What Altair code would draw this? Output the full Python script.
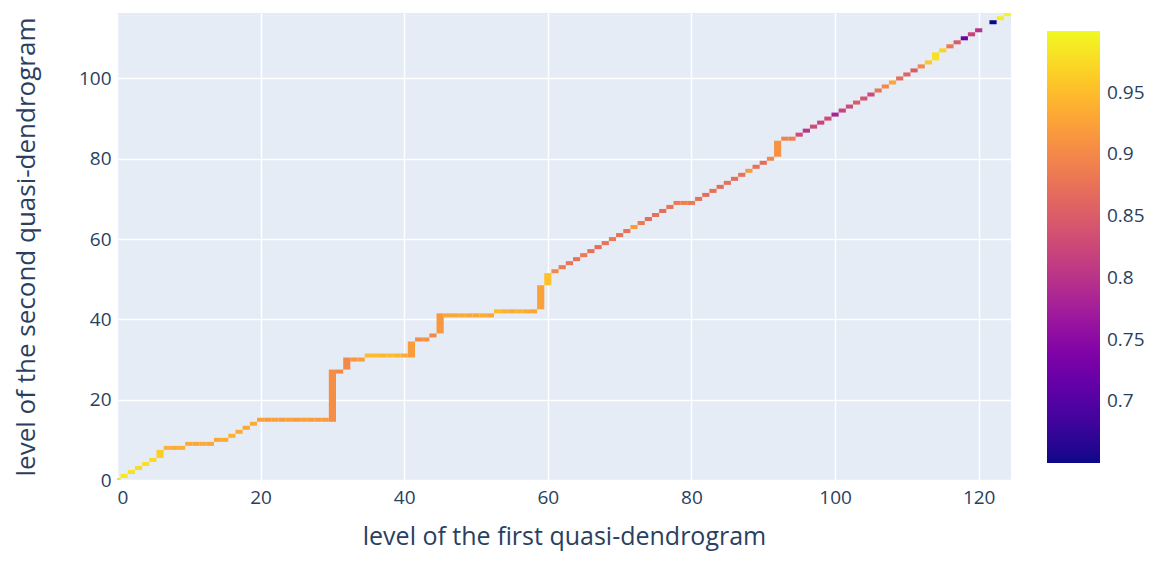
import altair as alt
import pandas as pd

# column index on the first quasi-dendrogram (column 121 is empty)
level_first = list(range(0, 121)) + [122, 123, 124]

# lowest / highest level of the second quasi-dendrogram filled in each column
level_second_low = [
    0, 1, 2, 3, 4, 5, 6, 8, 8, 8,
    9, 9, 9, 9, 10, 10, 11, 12, 13, 14,
    15, 15, 15, 15, 15, 15, 15, 15, 15, 15,
    15, 27, 28, 30, 30, 31, 31, 31, 31, 31,
    31, 31, 35, 35, 36, 37, 41, 41, 41, 41,
    41, 41, 41, 42, 42, 42, 42, 42, 42, 43,
    49, 52, 53, 54, 55, 56, 57, 58, 59, 60,
    61, 62, 63, 64, 65, 66, 67, 68, 69, 69,
    69, 70, 71, 72, 73, 74, 75, 76, 77, 78,
    79, 80, 81, 85, 85, 86, 87, 88, 89, 90,
    91, 92, 93, 94, 95, 96, 97, 98, 99, 100,
    101, 102, 103, 104, 105, 107, 108, 109, 110, 111,
    112, 114, 115, 116,
]
level_second_high = [
    0, 1, 2, 3, 4, 5, 7, 8, 8, 8,
    9, 9, 9, 9, 10, 10, 11, 12, 13, 14,
    15, 15, 15, 15, 15, 15, 15, 15, 15, 15,
    27, 27, 30, 30, 30, 31, 31, 31, 31, 31,
    31, 34, 35, 35, 36, 41, 41, 41, 41, 41,
    41, 41, 41, 42, 42, 42, 42, 42, 42, 48,
    51, 52, 53, 54, 55, 56, 57, 58, 59, 60,
    61, 62, 63, 64, 65, 66, 67, 68, 69, 69,
    69, 70, 71, 72, 73, 74, 75, 76, 77, 78,
    79, 80, 84, 85, 85, 86, 87, 88, 89, 90,
    91, 92, 93, 94, 95, 96, 97, 98, 99, 100,
    101, 102, 103, 104, 106, 107, 108, 109, 110, 111,
    112, 114, 115, 116,
]
similarity = [
    0.98, 0.985, 0.98, 0.975, 0.98, 0.975, 0.965, 0.94, 0.935, 0.94,
    0.935, 0.93, 0.935, 0.93, 0.93, 0.935, 0.94, 0.935, 0.93, 0.935,
    0.925, 0.92, 0.925, 0.92, 0.925, 0.92, 0.925, 0.92, 0.92, 0.92,
    0.905, 0.9, 0.9, 0.915, 0.92, 0.95, 0.95, 0.945, 0.95, 0.945,
    0.935, 0.92, 0.905, 0.91, 0.9, 0.915, 0.93, 0.93, 0.935, 0.93,
    0.93, 0.935, 0.93, 0.95, 0.94, 0.935, 0.94, 0.935, 0.93, 0.925,
    0.955, 0.9, 0.885, 0.88, 0.875, 0.885, 0.875, 0.87, 0.875, 0.885,
    0.875, 0.875, 0.92, 0.885, 0.87, 0.875, 0.87, 0.875, 0.885, 0.89,
    0.885, 0.875, 0.87, 0.875, 0.87, 0.875, 0.87, 0.875, 0.92, 0.875,
    0.87, 0.9, 0.91, 0.895, 0.89, 0.83, 0.8, 0.83, 0.82, 0.83,
    0.78, 0.82, 0.83, 0.85, 0.84, 0.83, 0.88, 0.9, 0.93, 0.87,
    0.86, 0.85, 0.9, 0.96, 0.98, 0.97, 0.88, 0.85, 0.72, 0.82,
    0.8, 0.65, 0.99, 0.998,
]

x_ticks = [0, 20, 40, 60, 80, 100, 120]
y_ticks = [0, 20, 40, 60, 80, 100]
legend_ticks = [0.7, 0.75, 0.8, 0.85, 0.9, 0.95]

df = pd.DataFrame({
    "x": level_first,
    "ylo": level_second_low,
    "yhi": level_second_high,
    "v": similarity,
})

FONT = "Open Sans"
TXT = "#2a3f5f"

chart = alt.Chart(df).transform_calculate(
    x0="datum.x - 0.5", x1="datum.x + 0.5",
    y0="datum.ylo - 0.5", y1="datum.yhi + 0.5",
).mark_rect(clip=True).encode(
    x=alt.X("x0:Q",
            scale=alt.Scale(domain=[0, 124.5], nice=False, zero=False),
            axis=alt.Axis(values=x_ticks, title="level of the first quasi-dendrogram",
                          labelPadding=8, titlePadding=17, titleFontSize=25)),
    x2="x1:Q",
    y=alt.Y("y0:Q",
            scale=alt.Scale(domain=[0, 116.3], nice=False, zero=False),
            axis=alt.Axis(values=y_ticks, title="level of the second quasi-dendrogram",
                          labelPadding=6, titlePadding=39, titleFontSize=26)),
    y2="y1:Q",
    color=alt.Color("v:Q",
                    scale=alt.Scale(scheme="plasma", domain=[0.65, 1.0]),
                    legend=alt.Legend(title=None, orient="none", legendX=930, legendY=18,
                                      direction="vertical", gradientLength=432,
                                      gradientThickness=53, gradientStrokeWidth=0,
                                      values=legend_ticks, format="~g",
                                      labelFont=FONT, labelFontSize=19, labelColor=TXT,
                                      labelOffset=7)),
    tooltip=["x:Q", "ylo:Q", "yhi:Q", "v:Q"],
).properties(
    width=894, height=467,
    autosize=alt.AutoSizeParams(type="none"),
    padding={"left": 109, "top": 5, "right": 140, "bottom": 74},
).configure_view(
    fill="#E5ECF6", stroke=None,
).configure_axis(
    grid=True, gridColor="white", gridWidth=1.5, gridOpacity=1,
    domain=False, ticks=False,
    labelFont=FONT, labelFontSize=19, labelColor=TXT,
    titleFont=FONT, titleColor=TXT, titleFontWeight="normal",
)

chart.save("out.html", embed_options={"renderer": "svg", "actions": False})
